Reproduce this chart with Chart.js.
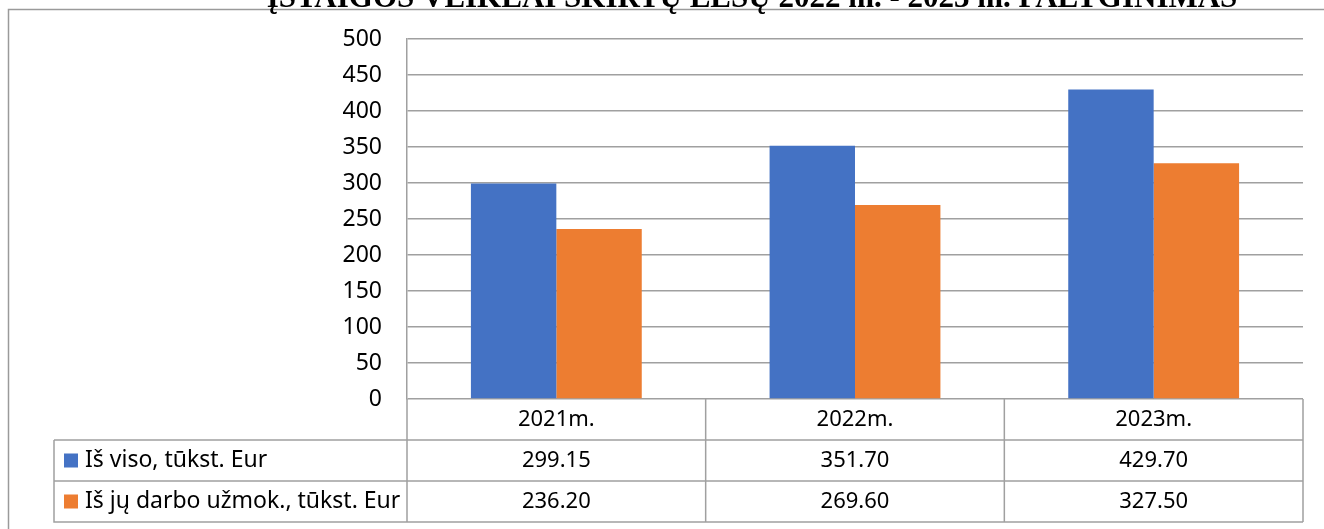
<!DOCTYPE html>
<html>
<head>
<meta charset="utf-8">
<script src="https://cdn.jsdelivr.net/npm/chart.js@4"></script>
<style>
html,body{margin:0;padding:0;background:#fff;}
#wrap{position:relative;width:1324px;height:529px;}
</style>
</head>
<body>
<div id="wrap"><canvas id="c" width="1324" height="529"></canvas></div>
<script>
const categories = ["2021m.", "2022m.", "2023m."];
const seriesNames = ["Iš viso, tūkst. Eur", "Iš jų darbo užmok., tūkst. Eur"];
const totalValues = [299.15, 351.70, 429.70];
const salaryValues = [236.20, 269.60, 327.50];
const tableLabels1 = ["299.15", "351.70", "429.70"];
const tableLabels2 = ["236.20", "269.60", "327.50"];
const titleText = "ĮSTAIGOS VEIKLAI SKIRTŲ LĖŠŲ 2022 m. - 2023 m. PALYGINIMAS";
const colors = ["#4472C4", "#ED7D31"];

const FONT = '"Noto Sans", sans-serif';
const LINE = '#a0a0a0';

const tablePlugin = {
  id: 'tablePlugin',
  afterDraw(chart) {
    const ctx = chart.ctx;
    const xs = chart.scales.x;
    const area = chart.chartArea;
    const n = categories.length;
    const left = area.left, right = area.right, top0 = area.bottom;
    const rowH = [41, 41, 41];
    const r1 = top0 + rowH[0], r2 = r1 + rowH[1], r3 = r2 + rowH[2];
    const legLeft = 54;
    ctx.save();
    // outer frame
    ctx.strokeStyle = '#9a9a9a';
    ctx.lineWidth = 1.5;
    ctx.beginPath();
    ctx.moveTo(8.5, 540); ctx.lineTo(8.5, 9.5); ctx.lineTo(1330, 9.5);
    ctx.stroke();
    // title (clipped at top)
    ctx.fillStyle = '#000';
    ctx.font = 'bold 31px "Liberation Serif", serif';
    ctx.textAlign = 'center';
    ctx.textBaseline = 'alphabetic';
    ctx.fillText(titleText, 752, 7);

    // table lines
    ctx.strokeStyle = LINE;
    ctx.lineWidth = 1.5;
    ctx.beginPath();
    ctx.moveTo(left, r1); ctx.lineTo(legLeft, r1);
    ctx.moveTo(legLeft, r1); ctx.lineTo(legLeft, r3); ctx.lineTo(right, r3);
    ctx.moveTo(legLeft, r2); ctx.lineTo(right, r2);
    ctx.moveTo(left, r1); ctx.lineTo(right, r1);
    ctx.moveTo(left, top0); ctx.lineTo(left, r3);
    const step = (right - left) / n;
    for (let i = 0; i < n; i++) {
      const bx = xs.getPixelForValue(i) + step / 2;
      ctx.moveTo(bx, top0); ctx.lineTo(bx, r3);
    }
    ctx.stroke();

    // text
    ctx.fillStyle = '#000';
    ctx.font = '22px ' + FONT;
    ctx.textAlign = 'center';
    ctx.textBaseline = 'middle';
    for (let i = 0; i < n; i++) {
      const cx = xs.getPixelForValue(i);
      ctx.fillText(categories[i], cx, (top0 + r1) / 2);
      ctx.fillText(tableLabels1[i], cx, (r1 + r2) / 2);
      ctx.fillText(tableLabels2[i], cx, (r2 + r3) / 2);
    }
    // legend keys
    ctx.textAlign = 'left';
    ctx.font = '23px ' + FONT;
    const rowsMid = [(r1 + r2) / 2, (r2 + r3) / 2];
    for (let k = 0; k < 2; k++) {
      ctx.fillStyle = colors[k];
      ctx.fillRect(64, rowsMid[k] - 7, 14, 14);
      ctx.fillStyle = '#000';
      ctx.fillText(seriesNames[k], 85, rowsMid[k]);
    }
    ctx.restore();
  }
};

new Chart(document.getElementById('c'), {
  type: 'bar',
  data: {
    labels: categories,
    datasets: [
      { label: seriesNames[0], data: totalValues, backgroundColor: colors[0], categoryPercentage: 0.572, barPercentage: 1 },
      { label: seriesNames[1], data: salaryValues, backgroundColor: colors[1], categoryPercentage: 0.572, barPercentage: 1 }
    ]
  },
  options: {
    responsive: false,
    animation: false,
    layout: { padding: { left: 0, top: 39, right: 21, bottom: 130 } },
    plugins: { legend: { display: false }, title: { display: false }, tooltip: { enabled: false } },
    scales: {
      x: { display: false },
      y: {
        min: 0, max: 500,
        ticks: { stepSize: 50, padding: 25, color: '#000', font: { family: FONT, size: 23 } },
        grid: { color: LINE, lineWidth: 1.5, drawTicks: false },
        border: { display: true, color: LINE, width: 1.5 },
        afterFit(scale) { scale.width = 407; }
      }
    }
  },
  plugins: [tablePlugin]
});
</script>
</body>
</html>
